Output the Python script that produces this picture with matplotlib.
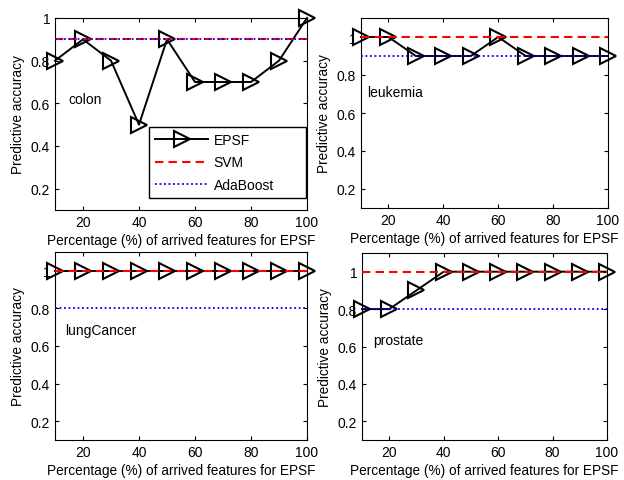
import matplotlib
matplotlib.use("Agg")
import matplotlib.pyplot as plt

plt.rcParams['font.family'] = ['Liberation Sans', 'DejaVu Sans']

x = [10, 20, 30, 40, 50, 60, 70, 80, 90, 100]
names = ["colon", "leukemia", "lungCancer", "prostate"]
epsf = {
    "colon": [0.8, 0.9, 0.8, 0.5, 0.9, 0.7, 0.7, 0.7, 0.8, 1.0],
    "leukemia": [1.0, 1.0, 0.9, 0.9, 0.9, 1.0, 0.9, 0.9, 0.9, 0.9],
    "lungCancer": [1.0] * 10,
    "prostate": [0.8, 0.8, 0.9, 1.0, 1.0, 1.0, 1.0, 1.0, 1.0, 1.0],
}
svm = {"colon": 0.903, "leukemia": 1.0, "lungCancer": 1.0, "prostate": 1.0}
ada = {"colon": 0.903, "leukemia": 0.9, "lungCancer": 0.8, "prostate": 0.8}
ylims = {"colon": (0.1, 1.0), "leukemia": (0.1, 1.1), "lungCancer": (0.1, 1.1), "prostate": (0.1, 1.1)}
label_pos = {"colon": (0.055, 0.58), "leukemia": (0.025, 0.61), "lungCancer": (0.04, 0.585), "prostate": (0.045, 0.535)}

fig = plt.figure(figsize=(6.24, 4.81), dpi=100)
W, H = 624, 481
boxes = {
    "colon": (55, 19, 307, 211),
    "leukemia": (361, 19, 608, 209),
    "lungCancer": (55, 253, 307, 441),
    "prostate": (362, 254, 607, 441),
}

for name in names:
    l, t, r, b = boxes[name]
    ax = fig.add_axes([l / W, 1 - b / H, (r - l) / W, (b - t) / H])
    ax.plot(x, epsf[name], color='black', linewidth=1.4, marker='>', markersize=11,
            markerfacecolor='none', markeredgecolor='black', markeredgewidth=1.5,
            label='EPSF', zorder=2, clip_on=False)
    ax.axhline(svm[name], color='red', linestyle=(0, (4, 2.5)), linewidth=1.5, label='SVM', zorder=3)
    ax.axhline(ada[name], color='blue', linestyle=(0, (1, 1.5)), linewidth=1.3, label='AdaBoost', zorder=4)
    ax.set_xlim(10, 100)
    ax.set_ylim(*ylims[name])
    ax.set_xticks([20, 40, 60, 80, 100])
    ax.set_yticks([0.2, 0.4, 0.6, 0.8, 1.0])
    ax.set_yticklabels(['0.2', '0.4', '0.6', '0.8', '1'])
    ax.tick_params(direction='in', top=True, right=True, labelsize=10, length=3)
    ax.set_xlabel('Percentage (%) of arrived features for EPSF', fontsize=9.8, labelpad=3)
    ax.set_ylabel('Predictive accuracy', fontsize=9.8, labelpad=4)
    ax.text(label_pos[name][0], label_pos[name][1], name, transform=ax.transAxes,
            fontsize=10, va='center')
    if name == "colon":
        leg = ax.legend(loc='lower left',
                  bbox_to_anchor=(0.373, 0.0625, 0.623, 0.37), mode='expand',
                  fontsize=10, fancybox=False, edgecolor='black',
                  framealpha=1, handlelength=3.8, handletextpad=0.4, borderpad=0.45,
                  labelspacing=0.6, borderaxespad=0.0)
        leg.set_zorder(5)

fig.savefig('out.png', dpi=100)
